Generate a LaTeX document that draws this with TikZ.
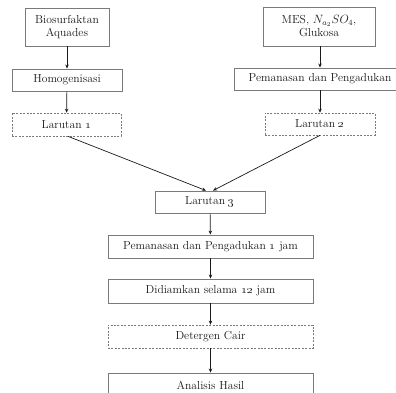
\documentclass[tikz,border=0pt]{standalone}
\usetikzlibrary{arrows.meta}
\definecolor{boxline}{HTML}{7A7A7A}
\definecolor{txt}{HTML}{1A1A1A}
\begin{document}
\begin{tikzpicture}[x=1pt,y=-1pt,
  box/.style={draw=boxline,line width=0.9pt,rectangle,inner sep=0pt,align=center,text=txt,font=\fontsize{11.6}{13}\selectfont},
  dbox/.style={box,dash pattern=on 2pt off 1.4pt,line width=0.7pt},
  arr/.style={-{Stealth[length=4pt,width=3.5pt]},line width=0.7pt,draw=txt}]
\clip (0,0) rectangle (396,393);
\fill[white] (0,0) rectangle (396,393);
\node[box,minimum width=84pt,minimum height=38pt] (bio) at (67,27) {Biosurfaktan\\Aquades};
\node[box,minimum width=110pt,minimum height=22pt] (homo) at (67,80) {Homogenisasi};
\node[dbox,minimum width=109pt,minimum height=23pt] (lar1) at (66.5,124.5) {Larutan \oldstylenums{1}};
\node[box,minimum width=112pt,minimum height=39pt] (mes) at (319,26.5) {MES, $N_{a_2}SO_4$,\\Glukosa};
\node[box,minimum width=172pt,minimum height=22pt] (pem) at (320,79) {Pemanasan dan Pengadukan};
\node[dbox,minimum width=110pt,minimum height=22pt] (lar2) at (320,124) {Larutan \oldstylenums{2}};
\node[box,minimum width=110pt,minimum height=22pt] (lar3) at (210,202) {Larutan \oldstylenums{3}};
\node[box,minimum width=205pt,minimum height=23pt] (pem1) at (210.5,246.5) {Pemanasan dan Pengadukan \oldstylenums{1} jam};
\node[box,minimum width=205pt,minimum height=24pt] (did) at (210.5,291) {Didiamkan selama \oldstylenums{12} jam};
\node[dbox,minimum width=205pt,minimum height=23pt] (det) at (210.5,336.5) {Detergen Cair};
\node[box,minimum width=205pt,minimum height=24pt] (ana) at (210.5,385) {Analisis Hasil};
\draw[arr] (bio) -- (homo);
\draw[arr] (homo) -- (lar1);
\draw[arr] (mes.south -| lar2.north) -- (pem.north -| lar2.north);
\draw[arr] (pem.south -| lar2.north) -- (lar2);
\draw[arr] ([xshift=1.5pt]lar1.south) -- ([xshift=-4pt]lar3.north);
\draw[arr] (lar2.south) -- ([xshift=3pt]lar3.north);
\draw[arr] (lar3) -- (pem1);
\draw[arr] (pem1) -- (did);
\draw[arr] (did) -- (det);
\draw[arr] (det) -- (ana);
\end{tikzpicture}
\end{document}
